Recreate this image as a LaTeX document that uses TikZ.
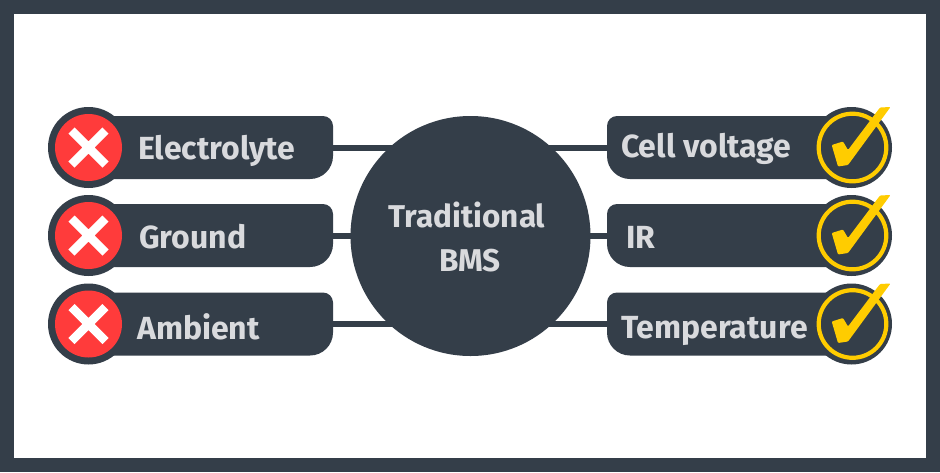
\documentclass[tikz,border=0pt]{standalone}
\usepackage{fontspec}
\setmainfont{Fira Sans}
\definecolor{slateD}{HTML}{343E49}
\definecolor{redX}{HTML}{FF3B3B}
\definecolor{goldC}{HTML}{FFCC00}
\definecolor{txtL}{HTML}{D9DADD}
\tikzset{
  link/.style={draw=slateD,line width=6pt},
  label/.style={text=txtL,font=\fontsize{32}{36}\selectfont\bfseries,anchor=base west,inner sep=0pt},
  hub/.style={circle,fill=slateD,minimum size=240pt,inner sep=0pt},
  hubtext/.style={text=txtL,font=\fontsize{31.5}{36}\selectfont\bfseries,anchor=base,inner sep=0pt},
}
\newcommand{\lefttab}[1]{%
  \fill[slateD] (110,#1-31.5) -- (323,#1-31.5) arc[start angle=-90,end angle=0,radius=10] -- (333,#1+8.5) arc[start angle=0,end angle=90,radius=23] -- (110,#1+31.5) -- cycle;
  \fill[slateD] (88.5,#1) circle[radius=40.5];
  \fill[redX] (88.5,#1) circle[radius=33.5];
  \draw[white,line width=8.5pt] (71.5,#1-17) -- (105.5,#1+17) (71.5,#1+17) -- (105.5,#1-17);
}
\newcommand{\righttab}[1]{%
  \fill[slateD] (830,#1-31.5) -- (617,#1-31.5) arc[start angle=-90,end angle=-180,radius=10] -- (607,#1+8.5) arc[start angle=180,end angle=90,radius=23] -- (830,#1+31.5) -- cycle;
  \fill[slateD] (851.5,#1) circle[radius=40.5];
  \draw[goldC,line width=4.2pt] (852.5,#1) circle[radius=33.8];
  \fill[goldC,rounded corners=1pt] (831.7,#1-2.5) -- (843,#1-6) -- (848,#1+2.5) -- (880,#1-40) -- (890.5,#1-40.5) -- (848,#1+17.5) -- (838,#1+19) -- cycle;
}
\begin{document}
\begin{tikzpicture}[x=1pt,y=-1pt]
\useasboundingbox (0,0) rectangle (940,472);
\fill[slateD] (0,0) rectangle (940,472);
\fill[white] (14,14) rectangle (926,458);
\node[hub] (c) at (470.5,236) {};
\coordinate (a1) at (333,147.5);
\coordinate (a2) at (333,235.5);
\coordinate (a3) at (333,324);
\coordinate (b1) at (607,147.5);
\coordinate (b2) at (607,235.5);
\coordinate (b3) at (607,324);
\foreach \p in {a1,a2,a3,b1,b2,b3} \draw[link] (\p) -- (\p -| c);
\lefttab{147.5}
\lefttab{235.5}
\lefttab{324}
\righttab{147.5}
\righttab{235.5}
\righttab{324}
\node[label] (l1) at (138,159) {Electrolyte};
\node[label] (l2) at (139,248) {Ground};
\node[label] (l3) at (137,339) {Ambient};
\node[label] (r1) at (621,157) {Cell voltage};
\node[label] (r2) at (626,248) {IR};
\node[label] (r3) at (621,338) {Temperature};
\node[hubtext] (t1) at (467,227) {Traditional};
\node[hubtext] (t2) at (470,271) {BMS};
\end{tikzpicture}
\end{document}
